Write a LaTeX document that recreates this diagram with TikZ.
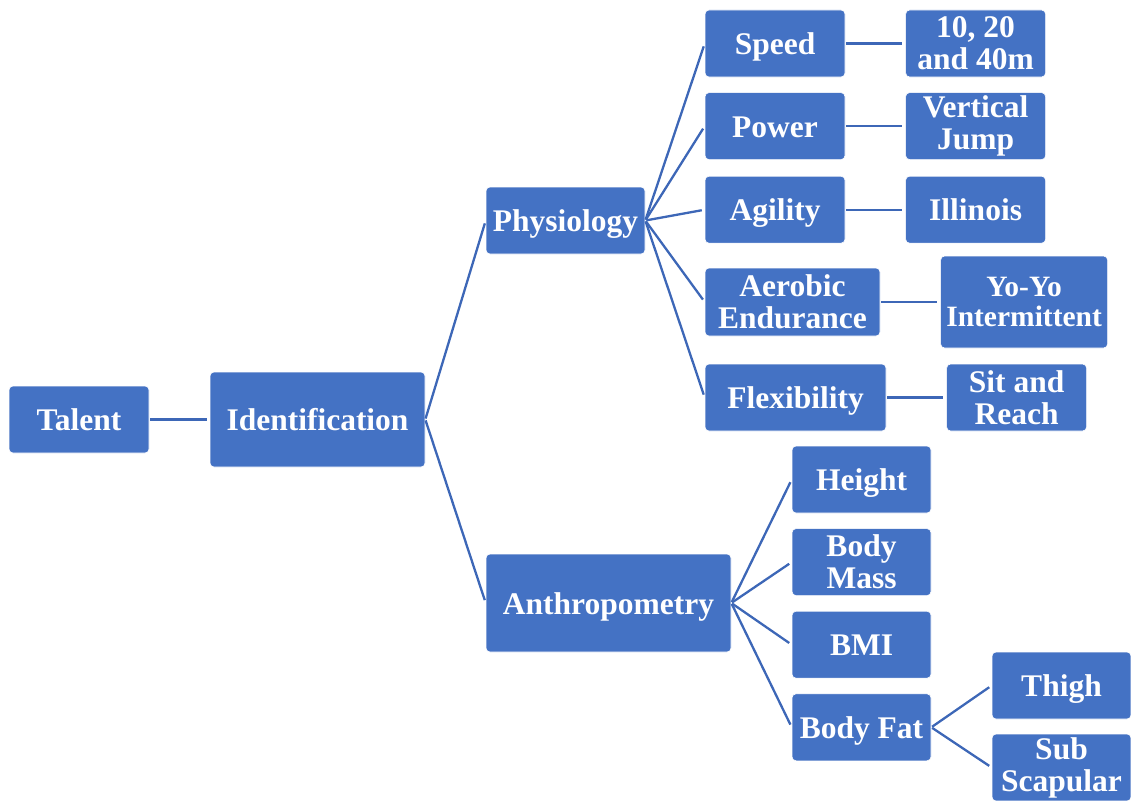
\documentclass[tikz,border=0pt]{standalone}
\usepackage{fontspec}
\setmainfont{Liberation Serif}
\usepackage{xcolor}
\usetikzlibrary{positioning,calc}
\definecolor{boxblue}{HTML}{4472C4}
\definecolor{linkblue}{HTML}{3D67B7}
\tikzset{
	box/.style={draw=white,line width=0.6pt,rectangle,rounded corners=4pt,fill=boxblue,
		text=white,font=\fontsize{31.5}{32}\selectfont\bfseries,align=center,
		inner sep=1pt,minimum height=67pt,minimum width=140pt,anchor=center},
	wide/.style={box,minimum width=#1},
	oneline/.style={text height=28.5pt,text depth=6pt},
	link/.style={draw=linkblue,line width=2.3pt,shorten >=3pt,shorten <=1pt},
}

\begin{document}
\begin{tikzpicture}[x=1pt,y=-1pt,node distance=15pt]
	\useasboundingbox (0,0) rectangle (1131,800);

	% Root
	\node[box,oneline] (talent) at (79,419.5) {Talent};
	\node[wide=215pt,oneline,minimum height=95pt] (ident) at (317.5,419.5) {Identification};

	% Second level
	\node[wide=159pt,oneline] (physio) at (565.5,220.5) {Physiology};
	\node[wide=245pt,oneline,minimum height=98pt] (anthro) at (608.5,603) {Anthropometry};

	% Physiology tests
	\node[box,oneline] (speed) at (775,43.5) {Speed};
	\node[box,oneline,below=of speed] (power) {Power};
	\node[box,oneline,below=16pt of power] (agility) {Agility};
	\node[wide=175pt,minimum height=68pt] (aerobic) at (792.5,302) {Aerobic\\Endurance};
	\node[wide=181pt,oneline] (flex) at (795.5,397.5) {Flexibility};

	\node[box,right=60pt of speed] (sprint) {10, 20\\and 40m};
	\node[box,right=60pt of power] (vjump) {Vertical\\Jump};
	\node[box,oneline,right=60pt of agility] (illinois) {Illinois};
	\node[wide=167pt,minimum height=92pt,right=60pt of aerobic,
		font=\fontsize{29.5}{30}\selectfont\bfseries] (yoyo) {Yo-Yo\\Intermittent};
	\node[box,right=60pt of flex] (sitreach) {Sit and\\Reach};

	% Anthropometry measures
	\node[wide=139pt,oneline] (height) at (861.5,479.5) {Height};
	\node[wide=139pt,below=of height] (mass) {Body\\Mass};
	\node[wide=139pt,oneline,below=of mass] (bmi) {BMI};
	\node[wide=139pt,oneline,below=of bmi] (fat) {Body Fat};

	\node[wide=139pt,oneline] (thigh) at (1061.5,685.5) {Thigh};
	\node[wide=139pt] (subscap) at (1061.5,767.5) {Sub\\Scapular};

	% Draw connections
	\draw[link] (talent) -- (ident);
	\draw[link] (ident.east) -- (physio.west);
	\draw[link] (ident.east) -- (anthro.west);
	\draw[link] (physio.east) -- (speed.west);
	\draw[link] (physio.east) -- (power.west);
	\draw[link] (physio.east) -- (agility.west);
	\draw[link] (physio.east) -- (aerobic.west);
	\draw[link] (physio.east) -- (flex.west);
	\draw[link] (speed) -- (sprint);
	\draw[link] (power) -- (vjump);
	\draw[link] (agility) -- (illinois);
	\draw[link] (aerobic) -- (yoyo);
	\draw[link] (flex) -- (sitreach);
	\draw[link] (anthro.east) -- (height.west);
	\draw[link] (anthro.east) -- (mass.west);
	\draw[link] (anthro.east) -- (bmi.west);
	\draw[link] (anthro.east) -- (fat.west);
	\draw[link] (fat.east) -- (thigh.west);
	\draw[link] (fat.east) -- (subscap.west);
\end{tikzpicture}
\end{document}
